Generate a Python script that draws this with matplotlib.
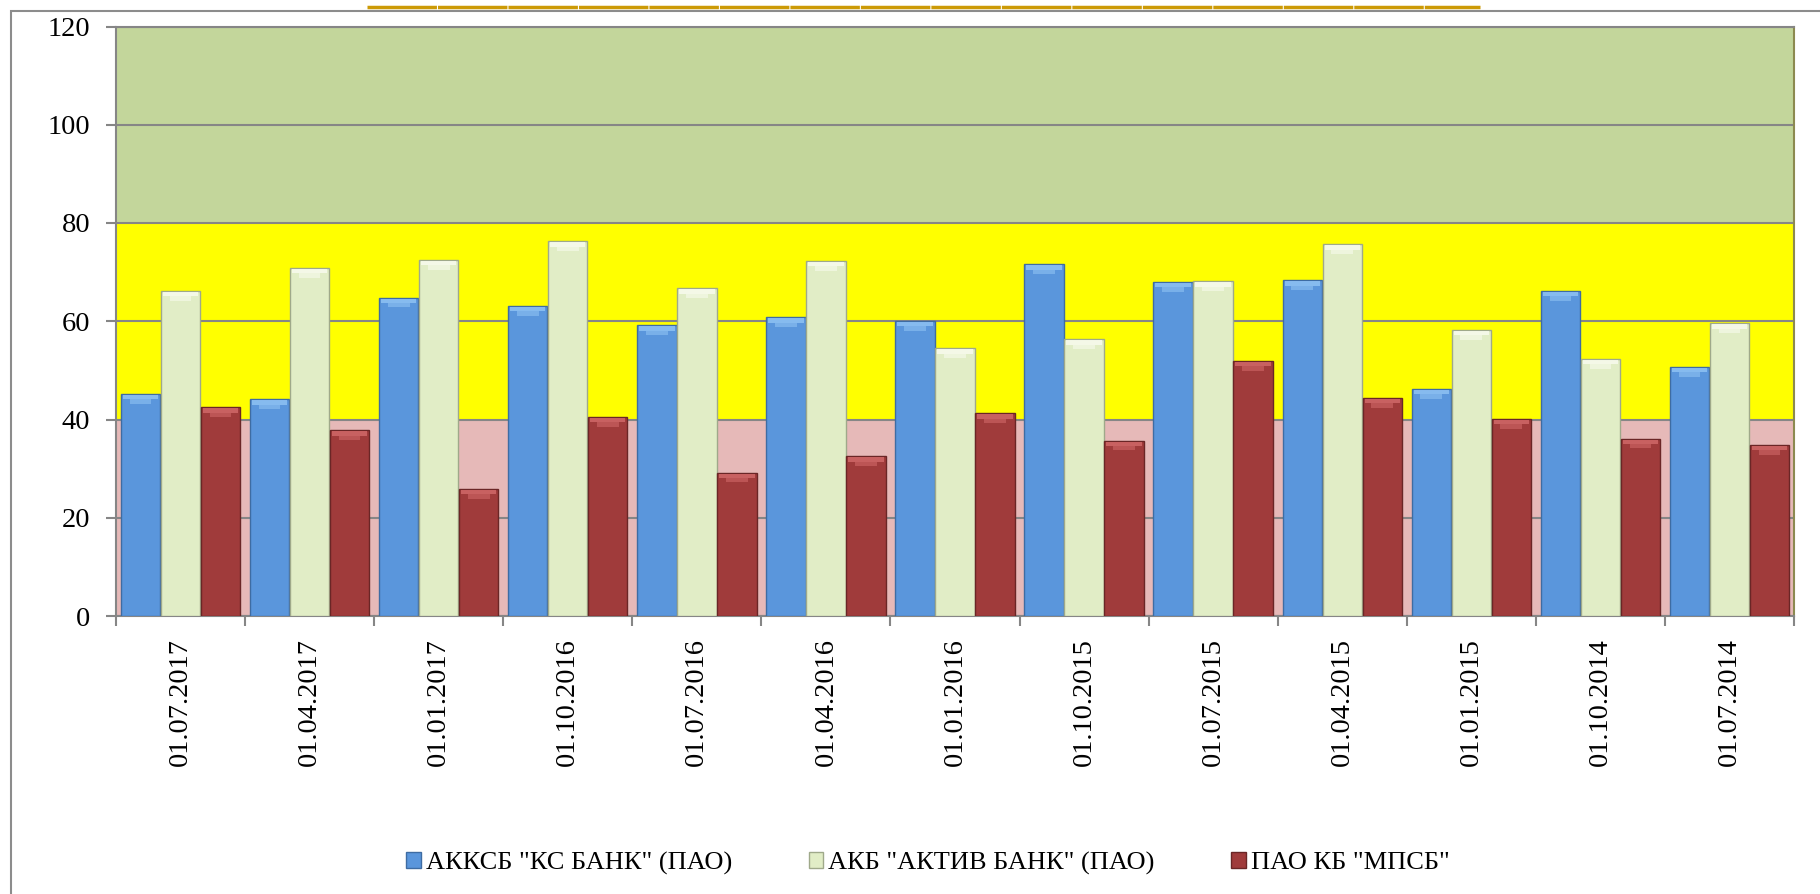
import numpy as np
import matplotlib
matplotlib.use('Agg')
import matplotlib.pyplot as plt
from matplotlib.patches import Patch, Rectangle
from matplotlib.lines import Line2D

plt.rcParams['font.family'] = ['Liberation Serif', 'DejaVu Serif']

# data
dates = ['01.07.2017', '01.04.2017', '01.01.2017', '01.10.2016', '01.07.2016',
         '01.04.2016', '01.01.2016', '01.10.2015', '01.07.2015', '01.04.2015',
         '01.01.2015', '01.10.2014', '01.07.2014']
ks_bank = [45.2, 44.1, 64.8, 63.1, 59.2, 60.8, 60.1, 71.6, 68.0, 68.3, 46.2, 66.2, 50.7]
aktiv_bank = [66.2, 70.9, 72.5, 76.3, 66.7, 72.3, 54.5, 56.3, 68.1, 75.7, 58.2, 52.3, 59.6]
mpsb = [42.5, 37.8, 25.9, 40.5, 29.2, 32.5, 41.3, 35.7, 51.9, 44.4, 40.1, 36.1, 34.8]
series_names = ['АККСБ "КС БАНК" (ПАО)', 'АКБ "АКТИВ БАНК" (ПАО)', 'ПАО КБ "МПСБ"']

# zones
zones = [(0, 40, '#E6B9B8'), (40, 80, '#FFFF00'), (80, 120, '#C3D69B')]

colors = ['#5A96DC', '#E1EDC6', '#A03B3B']
edges = ['#3E6CA3', '#9FA98A', '#6A2626']
tops = ['#8FC2F3', '#F8FBEE', '#D06868']

fig = plt.figure(figsize=(18.2, 8.94), dpi=100)
ax = fig.add_axes([116/1820, 1-616/894, (1794-116)/1820, (616-26.5)/894])

for lo, hi, c in zones:
    ax.axhspan(lo, hi, color=c, zorder=0, lw=0)

x = np.arange(len(dates))
w = 0.305
offs = [-0.31, 0.0, 0.31]
for vals, o, c, e, t, name in zip([ks_bank, aktiv_bank, mpsb], offs, colors, edges, tops, series_names):
    vals = np.array(vals)
    ax.bar(x + o, vals, w, color=c, edgecolor=e, linewidth=1.0, zorder=3, label=name)
    # bevel highlight at top of bar (chevron-like)
    ax.bar(x + o, 0.9, w * 0.9, bottom=vals - 1.1, color=t, linewidth=0, zorder=4, alpha=0.85)
    ax.bar(x + o, 0.9, w * 0.55, bottom=vals - 2.0, color=t, linewidth=0, zorder=4, alpha=0.6)

ax.set_xlim(-0.5, len(dates) - 0.5)
ax.set_ylim(0, 120)
ax.set_yticks(np.arange(0, 121, 20))
ax.yaxis.grid(True, color='#868686', linewidth=1.5, zorder=1)
for gl in ax.get_ygridlines():
    gl.set_zorder(1)

ax.set_xticks(x)
ax.set_xticklabels(dates, rotation=90, fontsize=20.5)
ax.set_xticks(np.arange(-0.5, len(dates), 1), minor=True)
ax.tick_params(axis='x', which='major', length=0, pad=16)
ax.tick_params(axis='x', which='minor', length=7, width=1.5, color='#868686', direction='out')
ax.tick_params(axis='y', length=7.5, width=1.5, color='#868686', labelsize=20.5, pad=11)

for s in ['left', 'bottom', 'top']:
    ax.spines[s].set_color('#868686')
    ax.spines[s].set_linewidth(1.5)
ax.spines['right'].set_color('#8C8A50')
ax.spines['right'].set_linewidth(1.5)

# outer chart frame and the line above it
fig.patches.append(Rectangle((11/1820, -0.05), 1.1, 1 - 11/894 + 0.05, transform=fig.transFigure,
                             fill=False, edgecolor='#8C8C8C', linewidth=1.5))
fig.lines.append(Line2D([367/1820, 1480/1820], [1 - 7/894, 1 - 7/894], transform=fig.transFigure,
                        color='#CC9A06', linewidth=2.5, linestyle=(0, (20, 0.3))))

handles = [Patch(facecolor=c, edgecolor=e) for c, e in zip(colors, edges)]
fig.legend(handles, series_names, loc='center', bbox_to_anchor=(928/1820, 1 - 863/894),
           ncol=3, frameon=False, prop={'family': 'Liberation Serif', 'size': 19},
           handlelength=0.55, handleheight=0.55, handletextpad=0.2, columnspacing=2.9)

fig.savefig('out.png', dpi=100)
